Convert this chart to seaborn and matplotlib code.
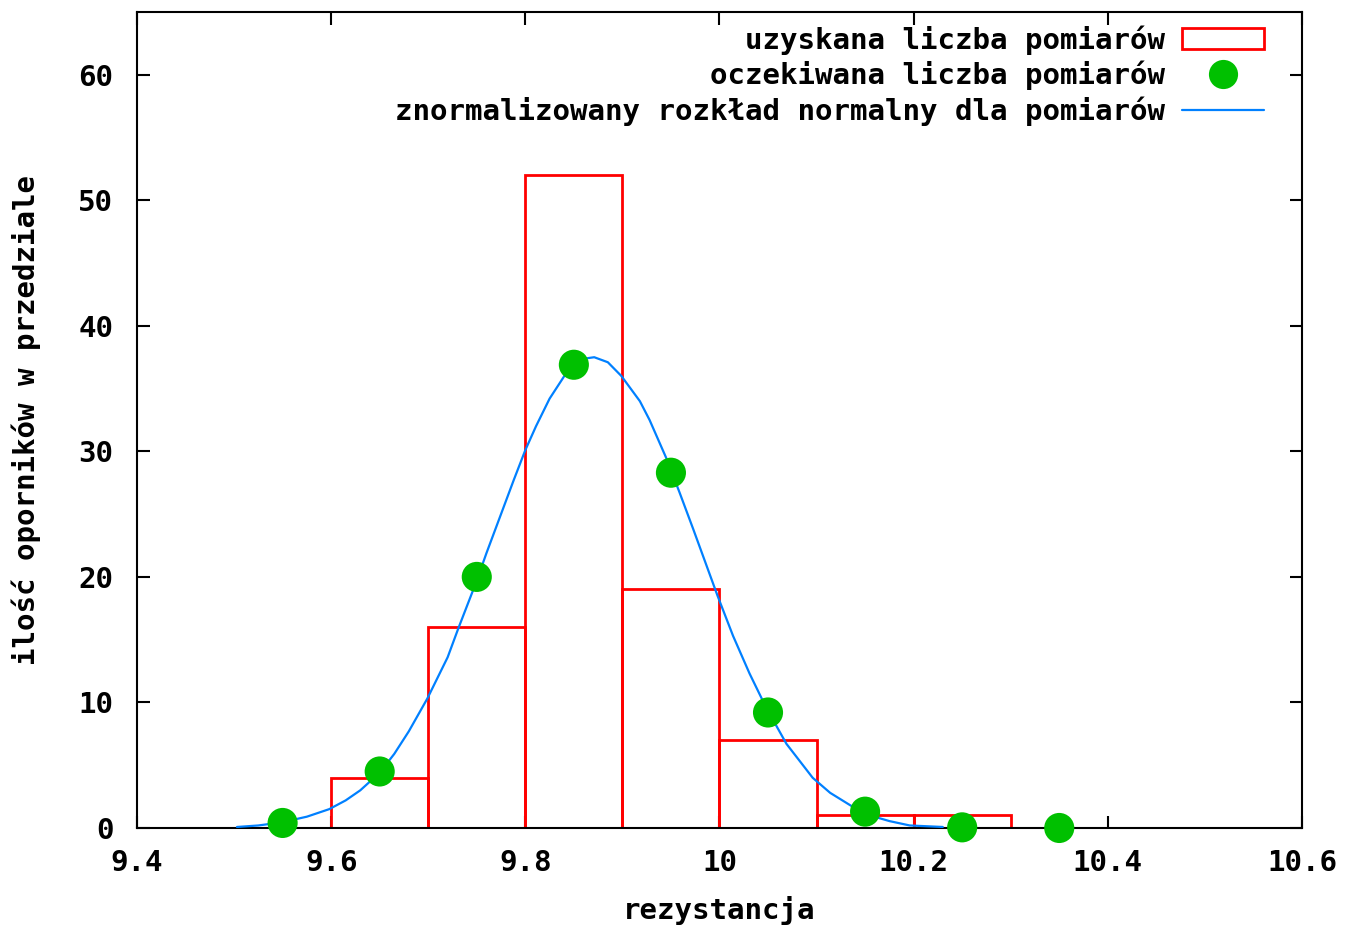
import numpy as np
import pandas as pd
import matplotlib
matplotlib.use("Agg")
import matplotlib.pyplot as plt
import seaborn as sns
from matplotlib.patches import Patch
from matplotlib.lines import Line2D

# histogram: bin edges and obtained counts
bin_edges = [9.5, 9.6, 9.7, 9.8, 9.9, 10.0, 10.1, 10.2, 10.3]
counts = [0, 4, 16, 52, 19, 7, 1, 1]

# expected counts at bin centres
exp_x = [9.55, 9.65, 9.75, 9.85, 9.95, 10.05, 10.15, 10.25, 10.35]
exp_y = [0.4, 4.5, 20.0, 36.9, 28.3, 9.2, 1.3, 0.05, 0.0]

# normal curve
curve_x = [9.503, 9.525, 9.549, 9.575, 9.598, 9.615, 9.630, 9.650, 9.665,
           9.680, 9.699, 9.720, 9.731, 9.749, 9.760, 9.774, 9.788, 9.800,
           9.811, 9.825, 9.841, 9.852, 9.862, 9.871, 9.885, 9.899, 9.918,
           9.928, 9.945, 9.959, 9.973, 9.998, 10.014, 10.031, 10.048,
           10.069, 10.096, 10.114, 10.137, 10.155, 10.175, 10.196, 10.230]
curve_y = [0.08, 0.2, 0.45, 0.9, 1.5, 2.2, 3.0, 4.4, 5.9,
           7.7, 10.3, 13.6, 15.9, 19.5, 21.9, 24.8, 27.7, 30.1,
           32.0, 34.2, 36.1, 36.9, 37.4, 37.5, 37.1, 36.0, 34.0,
           32.5, 29.5, 26.7, 23.8, 18.5, 15.3, 12.3, 9.6,
           6.7, 4.0, 2.8, 1.7, 1.0, 0.55, 0.2, 0.08]

x_ticks = [9.4, 9.6, 9.8, 10.0, 10.2, 10.4, 10.6]
x_tick_labels = ["9.4", "9.6", "9.8", "10", "10.2", "10.4", "10.6"]
y_ticks = [0, 10, 20, 30, 40, 50, 60]

labels = ["uzyskana liczba pomiarów",
          "oczekiwana liczba pomiarów",
          "znormalizowany rozkład normalny dla pomiarów"]

RED = "#ff0000"
GREEN = "#00c000"
BLUE = "#0080ff"

sns.set_style("ticks")
plt.rcParams["font.family"] = ["DejaVu Sans Mono", "DejaVu Sans"]
plt.rcParams["font.weight"] = "bold"
plt.rcParams["text.color"] = "black"
plt.rcParams["axes.labelcolor"] = "black"

fig = plt.figure(figsize=(13.51, 9.30), dpi=100)
ax = fig.add_axes([0.1014, 0.1097, 0.8623, 0.8774])

centres = [(a + b) / 2 for a, b in zip(bin_edges[:-1], bin_edges[1:])]
hist_df = pd.DataFrame({"x": centres, "w": counts})
sns.histplot(data=hist_df, x="x", weights="w", bins=bin_edges, fill=False,
             element="bars", color=RED, linewidth=2.0, ax=ax, zorder=2)

curve_df = pd.DataFrame({"x": curve_x, "y": curve_y})
sns.lineplot(data=curve_df, x="x", y="y", color=BLUE, linewidth=1.6,
             ax=ax, zorder=3, sort=False)

exp_df = pd.DataFrame({"x": exp_x, "y": exp_y})
sns.scatterplot(data=exp_df, x="x", y="y", color=GREEN, s=470,
                edgecolor="none", ax=ax, zorder=4, clip_on=False)

ax.set_xlim(9.4, 10.6)
ax.set_ylim(0, 65)
ax.set_xticks(x_ticks)
ax.set_xticklabels(x_tick_labels)
ax.set_yticks(y_ticks)
ax.tick_params(direction="in", length=9, width=1.5, top=True, right=True,
               labelsize=21, colors="black")
ax.tick_params(axis="x", pad=15)
ax.tick_params(axis="y", pad=17)
for sp in ax.spines.values():
    sp.set_linewidth(1.5)
    sp.set_color("black")

ax.set_xlabel("rezystancja", fontsize=21, fontweight="bold", labelpad=14)
ax.set_ylabel("ilość oporników w przedziale", fontsize=21,
              fontweight="bold", labelpad=27)

handles = [
    Patch(facecolor="none", edgecolor=RED, linewidth=2.0),
    Line2D([], [], marker="o", linestyle="none", markersize=21,
           markerfacecolor=GREEN, markeredgecolor="none"),
    Line2D([], [], color=BLUE, linewidth=1.6),
]
leg = ax.legend(handles, labels, loc="upper right", frameon=False,
                markerfirst=False, fontsize=21, handlelength=2.8,
                handletextpad=0.6, labelspacing=0.22,
                bbox_to_anchor=(0.985, 1.009), borderaxespad=0.3)
for t in leg.get_texts():
    t.set_fontweight("bold")
    t.set_color("black")

fig.savefig("out.png", dpi=100)
